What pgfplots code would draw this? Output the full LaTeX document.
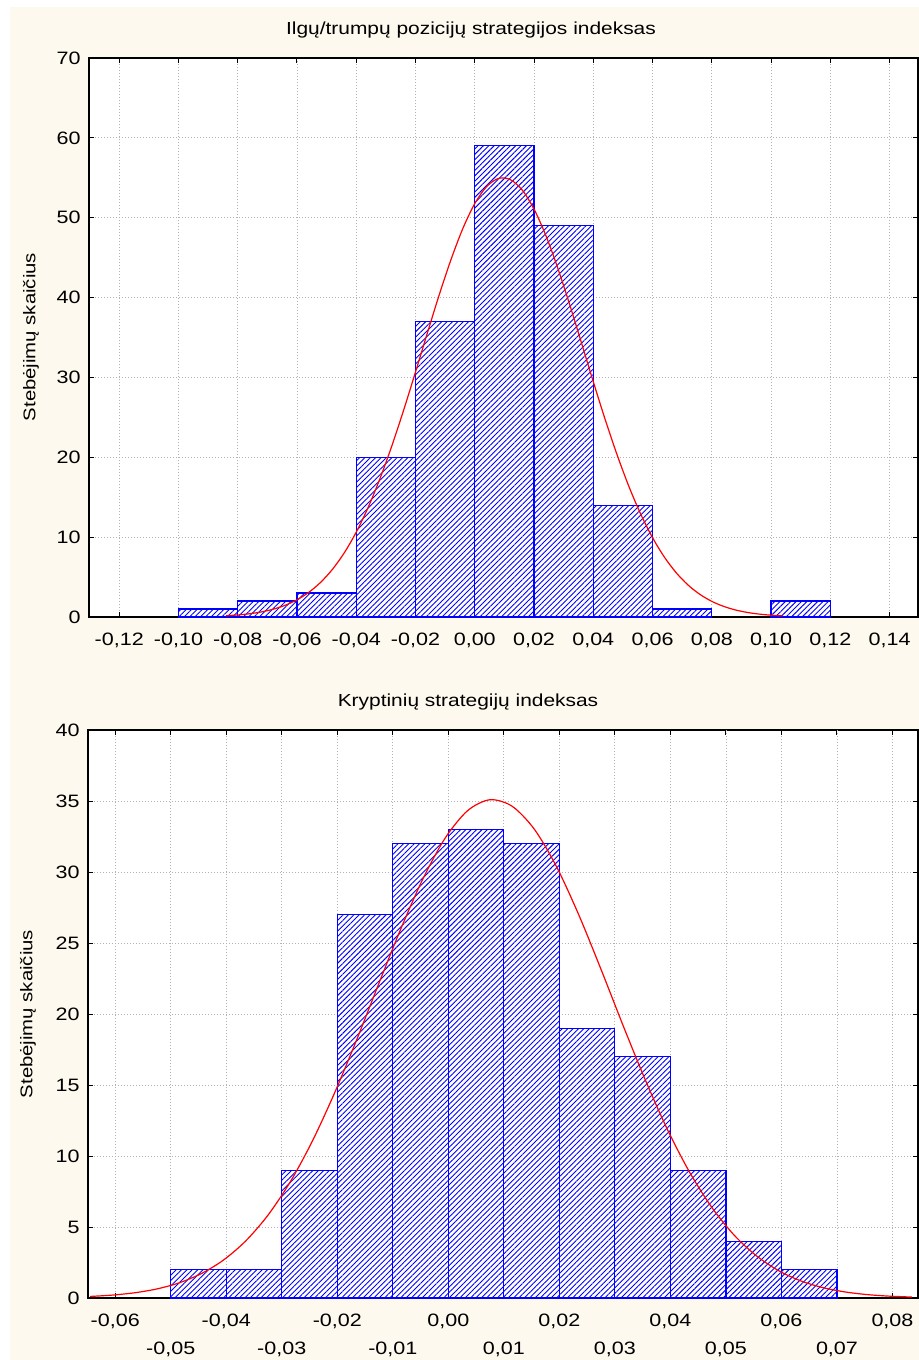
\documentclass[border=0pt]{standalone}
\usepackage{fontspec}
\setmainfont[FakeStretch=1.2]{Liberation Sans}
\usepackage{pgfplots}
\pgfplotsset{compat=1.18}
\usetikzlibrary{patterns.meta}
\definecolor{cream}{HTML}{FEF9EE}

\pgfplotsset{
  histo/.style={
    scale only axis, anchor=south west,
    axis line style={black,line width=1.2bp},
    tick style={black,line width=1bp},
    major tick length=5bp,
    grid=major,
    major grid style={gray!60,line width=0.8bp,dash pattern=on 1bp off 2bp},
    tick label style={font=\fontsize{18}{21}\selectfont},
    xticklabel style={yshift=-12bp},
    yticklabel style={xshift=-5bp},
    scaled x ticks=false, scaled y ticks=false,
    /pgf/number format/assume math mode=true,
    axis background/.style={fill=white},
  },
  bars/.style={draw=blue,line width=1.2bp,preaction={fill=white},
    pattern={Lines[angle=45,distance=3.8bp,line width=0.9bp]},pattern color=blue},
  fit/.style={red,line width=1.2bp,smooth},
}

\begin{document}
\begin{tikzpicture}
\fill[white] (0,0) rectangle (919bp,-1360bp);
\fill[cream] (10bp,-7bp) rectangle (919bp,-1360bp);

\node[font=\fontsize{17.5}{20}\selectfont] at (471bp,-30bp) {Ilgų/trumpų pozicijų strategijos indeksas};
\node[font=\fontsize{17}{20}\selectfont,rotate=90] at (31bp,-337bp) {Stebėjimų skaičius};

\begin{axis}[histo,
  at={(89bp,-617bp)}, width=829bp, height=559bp,
  xmin=-0.1302, xmax=0.1496, ymin=0, ymax=70,
  xtick={-0.12,-0.10,-0.08,-0.06,-0.04,-0.02,0,0.02,0.04,0.06,0.08,0.10,0.12,0.14},
  xticklabels={{-0,12},{-0,10},{-0,08},{-0,06},{-0,04},{-0,02},{0,00},{0,02},{0,04},{0,06},{0,08},{0,10},{0,12},{0,14}},
  ytick={0,10,20,30,40,50,60,70}]
  \addplot[ybar interval,bars] coordinates {
    (-0.10,1)(-0.08,2)(-0.06,3)(-0.04,20)(-0.02,37)(0,59)(0.02,49)(0.04,14)(0.06,1)(0.08,0)};
  \addplot[ybar interval,bars] coordinates {(0.10,2)(0.12,2)};
  \addplot[fit] coordinates {
    (-0.084,0.156)(-0.080,0.255)(-0.076,0.408)(-0.072,0.639)(-0.068,0.977)(-0.064,1.467)
    (-0.060,2.151)(-0.056,3.093)(-0.052,4.350)(-0.048,5.984)(-0.044,8.06)(-0.040,10.63)
    (-0.036,13.71)(-0.032,17.33)(-0.028,21.41)(-0.024,25.91)(-0.020,30.68)(-0.016,35.56)
    (-0.012,40.34)(-0.008,44.78)(-0.004,48.67)(0.000,51.77)(0.004,53.89)(0.008,54.92)
    (0.012,54.77)(0.016,53.47)(0.020,51.08)(0.024,47.77)(0.028,43.71)(0.032,39.16)
    (0.036,34.34)(0.040,29.47)(0.044,24.75)(0.048,20.35)(0.052,16.37)(0.056,12.89)
    (0.060,9.94)(0.064,7.50)(0.068,5.54)(0.072,4.00)(0.076,2.83)(0.080,1.96)
    (0.084,1.33)(0.088,0.881)(0.092,0.572)(0.096,0.364)(0.100,0.226)(0.104,0.138)};
\end{axis}

\node[font=\fontsize{17.5}{20}\selectfont] at (468bp,-702bp) {Kryptinių strategijų indeksas};
\node[font=\fontsize{17}{20}\selectfont,rotate=90] at (28bp,-1014bp) {Stebėjimų skaičius};

\begin{axis}[histo,
  at={(88bp,-1298bp)}, width=830bp, height=568bp,
  xmin=-0.0649, xmax=0.0846, ymin=0, ymax=40,
  xtick={-0.06,-0.04,-0.02,0,0.02,0.04,0.06,0.08},
  xticklabels={{-0,06},{-0,04},{-0,02},{0,00},{0,02},{0,04},{0,06},{0,08}},
  extra x ticks={-0.05,-0.03,-0.01,0.01,0.03,0.05,0.07},
  extra x tick labels={{-0,05},{-0,03},{-0,01},{0,01},{0,03},{0,05},{0,07}},
  extra x tick style={grid=major,xticklabel style={yshift=-28bp}},
  ytick={0,5,10,15,20,25,30,35,40}]
  \addplot[ybar interval,bars] coordinates {
    (-0.05,2)(-0.04,2)(-0.03,9)(-0.02,27)(-0.01,32)(0,33)(0.01,32)
    (0.02,19)(0.03,17)(0.04,9)(0.05,4)(0.06,2)(0.07,2)};
  \addplot[fit] coordinates {
    (-0.0645,0.111)(-0.0605,0.206)(-0.0565,0.369)(-0.0525,0.638)(-0.0485,1.065)
    (-0.0445,1.717)(-0.0405,2.672)(-0.0365,4.015)(-0.0325,5.826)(-0.0285,8.16)
    (-0.0245,11.04)(-0.0205,14.43)(-0.0165,18.19)(-0.0125,22.16)(-0.0085,26.05)
    (-0.0045,29.58)(-0.0005,32.43)(0.0035,34.33)(0.0075,35.09)(0.0115,34.63)
    (0.0155,33.01)(0.0195,30.37)(0.0235,26.98)(0.0275,23.15)(0.0315,19.17)
    (0.0355,15.34)(0.0395,11.84)(0.0435,8.83)(0.0475,6.36)(0.0515,4.42)
    (0.0555,2.97)(0.0595,1.924)(0.0635,1.204)(0.0675,0.728)(0.0715,0.425)
    (0.0755,0.239)(0.0795,0.130)(0.0835,0.068)};
\end{axis}
\end{tikzpicture}
\end{document}
